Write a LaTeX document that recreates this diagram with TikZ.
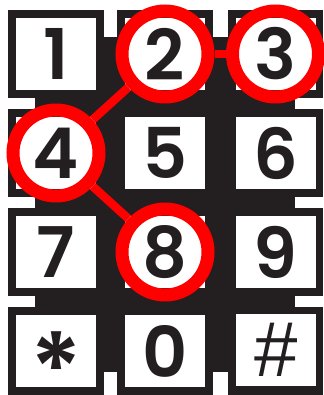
\documentclass[tikz,border=0pt]{standalone}
\usepackage{fontspec}
\usepackage{tikz}
\usetikzlibrary{positioning}
\newfontfamily\keyfont{Poppins}[BoldFont={Poppins SemiBold}]
\newfontfamily\hashfont{Liberation Sans}
\definecolor{padblack}{RGB}{35,31,32}
\definecolor{ringred}{RGB}{255,0,0}
\tikzset{
  key/.style={rectangle, fill=white, draw=none, inner sep=0pt,
    minimum width=80pt, minimum height=72pt,
    font=\keyfont\bfseries\fontsize{70}{70}\selectfont, text=padblack},
  notch/.style={fill=white, draw=none},
  ring/.style={circle, draw=ringred, line width=13pt, minimum size=86pt, inner sep=0pt},
  link/.style={line width=8.5pt, color=ringred}
}
\begin{document}
\begin{tikzpicture}[x=1pt, y=-1pt]
  \useasboundingbox (0,0) rectangle (323,395);
  % Keypad body
  \fill[padblack] (8,10) rectangle (323,395);
  \fill[notch] (104,10) rectangle (117,37);
  \fill[notch] (213,10) rectangle (228,37);
  \fill[notch] (104,372) rectangle (117,395);
  \fill[notch] (213,372) rectangle (228,395);
  \foreach \y in {98,197,296} {
    \fill[notch] (8,\y) rectangle (35,\y+11);
    \fill[notch] (295,\y) rectangle (323,\y+11);
  }

  % Keys
  \node[key] (k1) at (56,54) {1};
  \node[key] (k2) at (165,54) {2};
  \node[key] (k3) at (275.5,54) {3};
  \node[key] (k4) at (56,153) {4};
  \node[key] (k5) at (165,153) {5};
  \node[key] (k6) at (275.5,153) {6};
  \node[key] (k7) at (56,252) {7};
  \node[key] (k8) at (165,252) {8};
  \node[key] (k9) at (275.5,252) {9};
  \node[key] (kstar) at (56,351) {\fontsize{100}{100}\selectfont\raisebox{-54pt}[0pt][0pt]{*}};
  \node[key] (k0) at (165,351) {0};
  \node[key] (khash) at (276,350) {\hashfont\mdseries\fontsize{78}{78}\selectfont\#};

  % Dialled sequence
  \node[ring] (r2) at (k2) {};
  \node[ring] (r3) at (k3) {};
  \node[ring] (r4) at (k4) {};
  \node[ring] (r8) at (k8) {};
  \draw[link] (r3) -- (r2);
  \draw[link] (r2) -- (r4);
  \draw[link] (r4) -- (r8);
\end{tikzpicture}
\end{document}
